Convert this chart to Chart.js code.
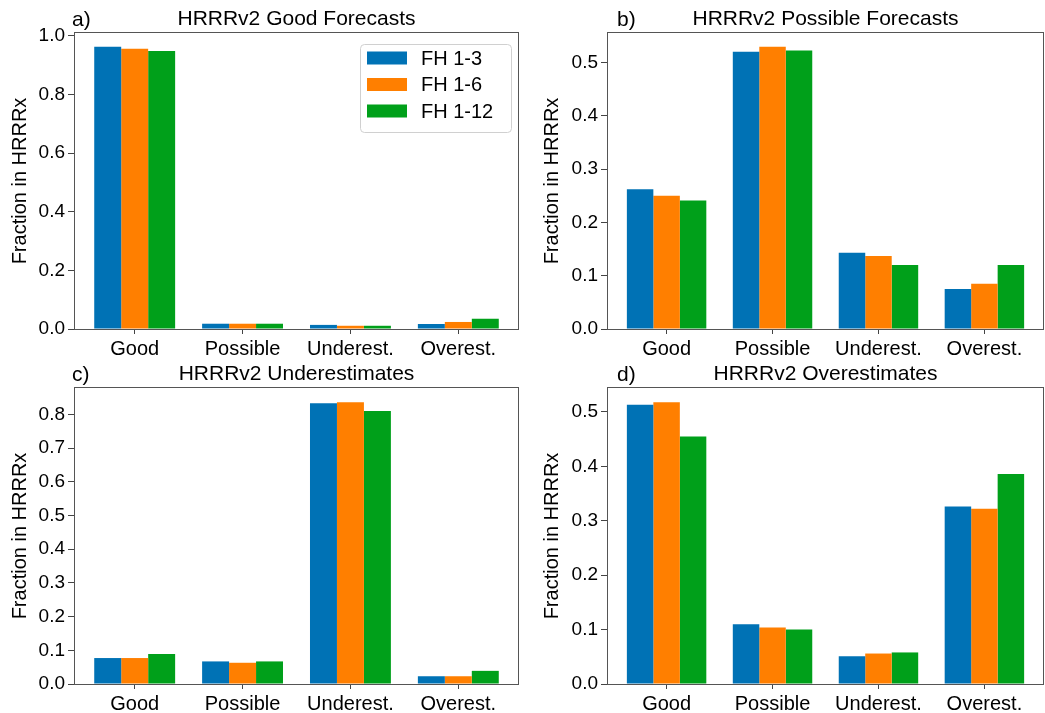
<!DOCTYPE html>
<html>
<head>
<meta charset="utf-8">
<script src="https://cdn.jsdelivr.net/npm/chart.js@4"></script>
<style>
  body { margin: 0; background: #fff; }
  .panel { position: absolute; }
</style>
</head>
<body>
<div class="panel" style="left:0px;top:0px"><canvas id="chart_a" width="522" height="356"></canvas></div>
<div class="panel" style="left:522px;top:0px"><canvas id="chart_b" width="523" height="356"></canvas></div>
<div class="panel" style="left:0px;top:356px"><canvas id="chart_c" width="522" height="357"></canvas></div>
<div class="panel" style="left:522px;top:356px"><canvas id="chart_d" width="523" height="357"></canvas></div>
<script>
const categories = ["Good", "Possible", "Underest.", "Overest."];
const series_labels = ["FH 1-3", "FH 1-6", "FH 1-12"];
const series_colors = ["#0072b5", "#ff7f00", "#00a01a"];

// a) good forecasts
const good_fh3 = [0.963, 0.018, 0.014, 0.017];
const good_fh6 = [0.956, 0.018, 0.011, 0.024];
const good_fh12 = [0.949, 0.018, 0.011, 0.035];

// b) possible forecasts
const possible_fh3 = [0.262, 0.520, 0.143, 0.075];
const possible_fh6 = [0.250, 0.529, 0.137, 0.085];
const possible_fh12 = [0.241, 0.522, 0.120, 0.120];

// c) underestimates
const under_fh3 = [0.077, 0.067, 0.833, 0.023];
const under_fh6 = [0.077, 0.063, 0.836, 0.023];
const under_fh12 = [0.089, 0.067, 0.810, 0.039];

// d) overestimates
const over_fh3 = [0.513, 0.110, 0.051, 0.326];
const over_fh6 = [0.518, 0.104, 0.056, 0.322];
const over_fh12 = [0.455, 0.100, 0.058, 0.386];

const panel_titles = ["HRRRv2 Good Forecasts", "HRRRv2 Possible Forecasts", "HRRRv2 Underestimates", "HRRRv2 Overestimates"];
const panel_letters = ["a)", "b)", "c)", "d)"];
const y_max = [1.01, 0.555, 0.878, 0.544];
const y_step = [0.2, 0.1, 0.1, 0.1];
const y_title = "Fraction in HRRRx";

const FONT = "'Liberation Sans', Arial, Helvetica, sans-serif";

// frame, panel title and letter
const framePlugin = {
  id: "frame",
  afterDraw(chart, args, opts) {
    const ctx = chart.ctx;
    const a = chart.chartArea;
    ctx.save();
    ctx.strokeStyle = "#555";
    ctx.lineWidth = 1;
    ctx.strokeRect(Math.round(a.left) + 0.5, Math.round(a.top) - 0.5, Math.round(a.right - a.left) - 1, Math.round(a.bottom - a.top) + 1);
    ctx.fillStyle = "#000";
    ctx.font = "21px " + FONT;
    ctx.textBaseline = "alphabetic";
    ctx.textAlign = "center";
    ctx.fillText(opts.title, (a.left + a.right) / 2, a.top - 8);
    ctx.textAlign = "left";
    ctx.fillText(opts.letter, a.left + opts.letterOffset, a.top - 7);
    ctx.restore();
  },
};

// legend box drawn inside the plot area (upper right)
const boxLegendPlugin = {
  id: "boxLegend",
  afterDraw(chart, args, opts) {
    if (!opts.show) return;
    const ctx = chart.ctx;
    const a = chart.chartArea;
    const w = 151, h = 88;
    const x = a.right - 8 - w, y = a.top + 11;
    ctx.save();
    ctx.beginPath();
    ctx.roundRect(x + 0.5, y + 0.5, w, h, 4);
    ctx.fillStyle = "rgba(255,255,255,0.85)";
    ctx.fill();
    ctx.strokeStyle = "#d0d0d0";
    ctx.lineWidth = 1;
    ctx.stroke();
    ctx.font = "20px " + FONT;
    ctx.textBaseline = "middle";
    ctx.textAlign = "left";
    chart.data.datasets.forEach((ds, i) => {
      const cy = y + 14 + i * 26.5;
      ctx.fillStyle = ds.backgroundColor;
      ctx.fillRect(x + 7, cy - 6.5, 40, 13);
      ctx.fillStyle = "#000";
      ctx.fillText(ds.label, x + 61, cy + 1);
    });
    ctx.restore();
  },
};

function make_panel(canvas_id, idx, values, layout) {
  const datasets = values.map((vals, i) => ({
    label: series_labels[i],
    data: vals.map((v, j) => ({ x: j, y: v })),
    backgroundColor: series_colors[i],
    borderWidth: 0,
    categoryPercentage: 0.75,
    barPercentage: 1.0,
  }));

  return new Chart(document.getElementById(canvas_id), {
    type: "bar",
    data: { datasets: datasets },
    plugins: [framePlugin, boxLegendPlugin],
    options: {
      responsive: false,
      animation: false,
      devicePixelRatio: 1,
      layout: { padding: { left: 0, top: layout.top, right: layout.right, bottom: 0 } },
      plugins: {
        legend: { display: false },
        tooltip: { enabled: false },
        frame: { title: panel_titles[idx], letter: panel_letters[idx], letterOffset: layout.letterOffset },
        boxLegend: { show: idx === 0 },
      },
      scales: {
        x: {
          type: "linear",
          min: -0.5625,
          max: 3.5625,
          offset: false,
          border: { display: false },
          grid: { drawOnChartArea: false, offset: false, tickLength: 5, color: "#444" },
          ticks: {
            stepSize: 1,
            includeBounds: false,
            padding: 3,
            color: "#000",
            font: { family: FONT, size: 20 },
            callback: (v) => categories[v],
          },
          afterFit: (scale) => { scale.height = layout.xHeight; },
        },
        y: {
          min: 0,
          max: y_max[idx],
          border: { display: false },
          grid: { drawOnChartArea: false, tickLength: 6, color: "#444" },
          ticks: {
            stepSize: y_step[idx],
            includeBounds: false,
            padding: 3,
            color: "#000",
            font: { family: FONT, size: 19 },
            callback: (v) => v.toFixed(1),
          },
          title: {
            display: true,
            text: y_title,
            color: "#000",
            font: { family: FONT, size: 20 },
            padding: { top: layout.titlePad, bottom: 0 },
          },
          afterFit: (scale) => { scale.width = layout.yWidth; },
        },
      },
    },
  });
}

make_panel("chart_a", 0, [good_fh3, good_fh6, good_fh12],
  { top: 33, right: 3, xHeight: 27, yWidth: 74, titlePad: 8, letterOffset: -2 });
make_panel("chart_b", 1, [possible_fh3, possible_fh6, possible_fh12],
  { top: 33, right: 1, xHeight: 27, yWidth: 85, titlePad: 18, letterOffset: 10 });
make_panel("chart_c", 2, [under_fh3, under_fh6, under_fh12],
  { top: 32, right: 3, xHeight: 29, yWidth: 74, titlePad: 8, letterOffset: -2 });
make_panel("chart_d", 3, [over_fh3, over_fh6, over_fh12],
  { top: 32, right: 1, xHeight: 29, yWidth: 85, titlePad: 18, letterOffset: 10 });
</script>
</body>
</html>
